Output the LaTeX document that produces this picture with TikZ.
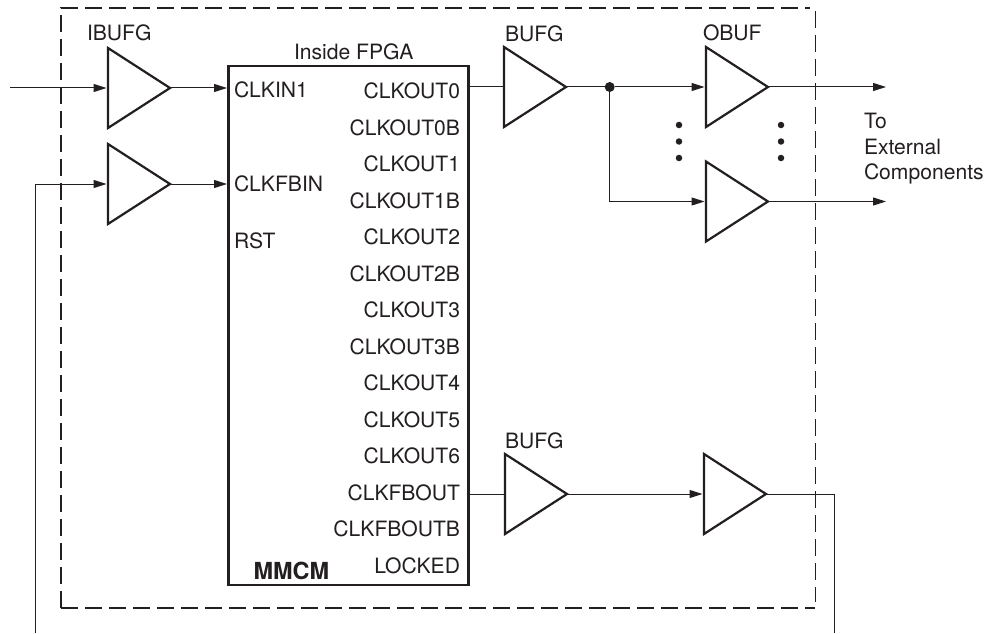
\documentclass[tikz,border=0pt]{standalone}
\usepackage{fontspec}
\setmainfont{TeX Gyre Heros}
\usetikzlibrary{shapes.geometric,arrows.meta}
\definecolor{ink}{HTML}{231F20}
\tikzset{
  tri/.style={isosceles triangle,isosceles triangle apex angle=60,isosceles triangle stretches,
    shape border rotate=0,minimum width=80pt,minimum height=62pt,inner sep=0pt,outer sep=0pt,
    draw=ink,line width=2.2pt,anchor=apex,miter limit=10},
  wire/.style={draw=ink,line width=1pt},
  arrowwire/.style={wire,-{Triangle[length=13pt,width=8pt]},shorten >=1.5pt},
  frame/.style={draw=ink,line width=1.1pt,dash pattern=on 17pt off 7pt},
  lblL/.style={anchor=base west,inner sep=0pt,outer sep=0pt,text=ink,font=\fontsize{21.1}{25}\selectfont,yshift=-0.8pt},
  lblR/.style={anchor=base east,inner sep=0pt,outer sep=0pt,text=ink,font=\fontsize{21.1}{25}\selectfont,yshift=-0.8pt},
  blockbox/.style={draw=ink,line width=2.6pt,minimum width=240pt,minimum height=519pt,inner sep=0pt,outer sep=0pt,anchor=north west},
  joint/.style={circle,fill=ink,inner sep=0pt,minimum size=10pt},
  dotty/.style={circle,fill=ink,inner sep=0pt,minimum size=6.5pt}
}
\begin{document}
\begin{tikzpicture}[x=1pt,y=-1pt]
\useasboundingbox[fill=white] (0,0) rectangle (989,634);
% frame
\draw[frame] (61,608) -- (61,8) -- (810,8);
\draw[frame] (61,608) -- (815,608);
\draw[frame] (815.5,11) -- (815.5,602);
% block
\node[blockbox] (mmcm) at (228.5,66) {};
% buffers
\node[tri] (ib1) at (170,88) {};
\node[tri] (ib2) at (170,184) {};
\node[tri] (bg1) at (566,87) {};
\node[tri] (ob1) at (768,87) {};
\node[tri] (ob2) at (768,201.5) {};
\node[tri] (bg2) at (567,494) {};
\node[tri] (ob3) at (766,494) {};
% free ends
\coordinate (inA) at (10,88);
\coordinate (fbLow) at (35,633);
\coordinate (fbUp) at (35,184);
\coordinate (fbRight) at (834.5,494);
\coordinate (fbRightLow) at (834.5,633);
\coordinate (ext1) at (886,87);
\coordinate (ext2) at (886,201.5);
\coordinate (mmIn1) at (mmcm.west |- ib1.apex);
\coordinate (mmIn2) at (mmcm.west |- ib2.apex);
\coordinate (mmOut1) at (mmcm.east |- bg1.apex);
\coordinate (mmOut2) at (mmcm.east |- bg2.apex);
\node[joint] (jn) at (609.7,87) {};
\coordinate (jnLow) at (jn |- ob2.apex);
% connectors
\draw[arrowwire] (inA) -- (inA -| ib1.lower side);
\draw[arrowwire] (ib1.apex) -- (mmIn1);
\draw[arrowwire] (fbLow) -- (fbUp) -- (fbUp -| ib2.lower side);
\draw[arrowwire] (ib2.apex) -- (mmIn2);
\draw[wire] (mmOut1) -- (mmOut1 -| bg1.lower side);
\draw[wire] (bg1.apex) -- (jn);
\draw[arrowwire] (jn) -- (jn -| ob1.lower side);
\draw[arrowwire] (jn) -- (jnLow) -- (jnLow -| ob2.lower side);
\draw[arrowwire,shorten >=0pt] (ob1.apex) -- (ext1);
\draw[arrowwire,shorten >=0pt] (ob2.apex) -- (ext2);
\draw[wire] (mmOut2) -- (mmOut2 -| bg2.lower side);
\draw[arrowwire] (bg2.apex) -- (bg2.apex -| ob3.lower side);
\draw[wire] (ob3.apex) -- (fbRight) -- (fbRightLow);
% dots
\foreach \n/\x/\y in {a/679/125,b/679/141.5,c/679/158,d/781/125,e/781/141.5,f/781/158}
  \node[dotty] (dot\n) at (\x,\y) {};
% labels
\node[lblL] (tIB) at (87,40) {IBUFG};
\node[lblL] (tIF) at (294,58.7) {Inside FPGA};
\node[lblL] (tBG) at (505,40.7) {BUFG};
\node[lblL] (tOB) at (703,40) {OBUF};
\node[lblL] (tBG2) at (505,447.7) {BUFG};
\node[lblL] (tTo) at (864,127.7) {To};
\node[lblL] (tEx) at (864,153.3) {External};
\node[lblL] (tCo) at (864,179) {Components};
\node[lblL] (pI1) at (234,96.7) {CLKIN1};
\node[lblL] (pI2) at (234,190.7) {CLKFBIN};
\node[lblL] (pI3) at (234,247.5) {RST};
\node[lblR] (pO0) at (460,97.7) {CLKOUT0};
\node[lblR] (pO1) at (460,134.7) {CLKOUT0B};
\node[lblR] (pO2) at (460,171) {CLKOUT1};
\node[lblR] (pO3) at (460,207.7) {CLKOUT1B};
\node[lblR] (pO4) at (460,244) {CLKOUT2};
\node[lblR] (pO5) at (460,280.7) {CLKOUT2B};
\node[lblR] (pO6) at (460,316.7) {CLKOUT3};
\node[lblR] (pO7) at (460,353.3) {CLKOUT3B};
\node[lblR] (pO8) at (460,390) {CLKOUT4};
\node[lblR] (pO9) at (460,426.7) {CLKOUT5};
\node[lblR] (pO10) at (460,463) {CLKOUT6};
\node[lblR] (pO11) at (460,499.7) {CLKFBOUT};
\node[lblR] (pO12) at (460,536) {CLKFBOUTB};
\node[lblR] (pO13) at (460,572.7) {LOCKED};
\node[lblL,font=\fontsize{23.5}{28}\selectfont\bfseries] (tMM) at (253.5,578.7) {MMCM};
\end{tikzpicture}
\end{document}
